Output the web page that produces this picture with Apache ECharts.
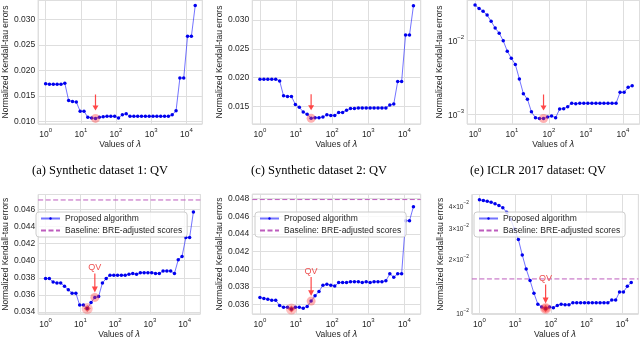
<!DOCTYPE html>
<html>
<head>
<meta charset="utf-8">
<script src="https://cdn.jsdelivr.net/npm/echarts@6/dist/echarts.min.js"></script>
<style>
  html, body { margin: 0; padding: 0; background: #fff; }
  #chart { width: 640px; height: 340px; }
</style>
</head>
<body>
<div id="chart"></div>
<script>
// lambda grid shared by all six panels
const LAMBDAS = [1, 1.285, 1.652, 2.123, 2.729, 3.508, 4.508, 5.794, 7.447, 9.572,
  12.30, 15.81, 20.32, 26.12, 33.57, 43.15, 55.46, 71.29, 91.62, 117.8,
  151.4, 194.5, 250.0, 321.4, 413.0, 530.9, 682.3, 877.0, 1127, 1449,
  1862, 2393, 3076, 3954, 5082, 6531, 8395, 10790, 13868, 17824];
const X_LIMITS = [0.6138, 28314];

// top row: synthetic 1, synthetic 2, ICLR 2017
const SYN1_TOP = [0.0174, 0.0173, 0.0173, 0.0173, 0.0173, 0.0175, 0.0141, 0.0139, 0.0138, 0.0120,
  0.0120, 0.0108, 0.0107, 0.0106, 0.0108, 0.0109, 0.0110, 0.0110, 0.0110, 0.0107,
  0.0113, 0.0115, 0.0110, 0.0110, 0.0110, 0.0110, 0.0110, 0.0110, 0.0110, 0.0110,
  0.0110, 0.0110, 0.0110, 0.0113, 0.0121, 0.0185, 0.0185, 0.0267, 0.0267, 0.0327];
const SYN2_TOP = [0.0197, 0.0197, 0.0197, 0.0197, 0.0197, 0.0194, 0.0168, 0.0167, 0.0167, 0.0153,
  0.0148, 0.0140, 0.0136, 0.0129, 0.0130, 0.0130, 0.0131, 0.0135, 0.0134, 0.0134,
  0.0139, 0.0139, 0.0143, 0.0146, 0.0146, 0.0147, 0.0147, 0.0147, 0.0147, 0.0147,
  0.0147, 0.0147, 0.0147, 0.0152, 0.0154, 0.0193, 0.0193, 0.0274, 0.0274, 0.0325];
const ICLR_TOP = [0.0296, 0.0267, 0.0245, 0.0217, 0.0179, 0.0145, 0.0124, 0.0098, 0.0071, 0.0057,
  0.0047, 0.0030, 0.0019, 0.0016, 0.00108, 0.00090, 0.00088, 0.00088, 0.00092, 0.00095,
  0.00090, 0.00118, 0.00119, 0.00127, 0.00141, 0.00139, 0.00141, 0.00141, 0.00141, 0.00141,
  0.00141, 0.00141, 0.00141, 0.00141, 0.00141, 0.00141, 0.00198, 0.00198, 0.00231, 0.00243];

// bottom row: (a) synthetic 1, (c) synthetic 2, (e) ICLR 2017
const SYN1_BOT = [0.0379, 0.0379, 0.0375, 0.0374, 0.0374, 0.0370, 0.0366, 0.0362, 0.0362, 0.0348,
  0.0348, 0.0344, 0.0351, 0.0357, 0.0358, 0.0374, 0.0379, 0.0383, 0.0383, 0.0383,
  0.0383, 0.0383, 0.0384, 0.0385, 0.0384, 0.0386, 0.0386, 0.0386, 0.0386, 0.0385,
  0.0385, 0.0388, 0.0388, 0.0388, 0.0385, 0.0401, 0.0405, 0.0427, 0.0427, 0.0457];
const SYN2_BOT = [0.0368, 0.0367, 0.0366, 0.0365, 0.0365, 0.0359, 0.0357, 0.0357, 0.0355, 0.0357,
  0.0357, 0.0356, 0.0358, 0.0364, 0.0370, 0.0375, 0.0382, 0.0383, 0.0382, 0.0381,
  0.0385, 0.0385, 0.0385, 0.0386, 0.0386, 0.0386, 0.0385, 0.0386, 0.0385, 0.0386,
  0.0386, 0.0386, 0.0387, 0.0395, 0.0391, 0.0395, 0.0395, 0.0455, 0.0455, 0.0471];
const ICLR_BOT = [0.0430, 0.0426, 0.0422, 0.0417, 0.0408, 0.0400, 0.0388, 0.0366, 0.0335, 0.0295,
  0.0258, 0.0211, 0.0176, 0.0152, 0.0129, 0.0112, 0.0108, 0.0106, 0.0108, 0.0107,
  0.0110, 0.0112, 0.0111, 0.0111, 0.0114, 0.0114, 0.0114, 0.0114, 0.0114, 0.0114,
  0.0114, 0.0114, 0.0114, 0.0114, 0.0118, 0.0118, 0.0131, 0.0131, 0.0141, 0.0148];

const BASELINES = [0.0471, 0.0479, 0.0155];
const QV_INDEX = [13, 13, 17, 13, 13, 17];
const MIN_INDEX = [11, 8, 17];
const ICLR_BOT_TICKS = [0.01, 0.02, 0.03, 0.04];
const CAPTIONS = ['(a) Synthetic dataset 1: QV', '(c) Synthetic dataset 2: QV', '(e) ICLR 2017 dataset: QV'];

const ALG = 'Proposed algorithm';
const BASE = 'Baseline: BRE-adjusted scores';
const TXT = '#262626';
const GRID_C = '#dedede';
const BASE_C = '#bd5cbd';
const ARROW = 'path://M4,0L6,0L6,11L10,11L5,16L0,11L4,11Z';

const panels = [
  { vals: SYN1_TOP, grid: { left: 33, top: 0, width: 169.3, height: 124 }, y: [0.0095, 0.0338], log: false, split: 5, gap: 23.5 },
  { vals: SYN2_TOP, grid: { left: 252.3, top: 0, width: 168.4, height: 124 }, y: [0.0119, 0.0335], log: false, split: 5, gap: 25.8 },
  { vals: ICLR_TOP, grid: { left: 467.2, top: 0, width: 172.4, height: 124 }, y: [0.000741, 0.03467], log: true, gap: 22.7 },
  { vals: SYN1_BOT, grid: { left: 33.4, top: 194.5, width: 167, height: 124.3 }, y: [0.03376, 0.04774], log: false, split: 7, gap: 26 },
  { vals: SYN2_BOT, grid: { left: 252.3, top: 194.1, width: 168.4, height: 124.9 }, y: [0.03494, 0.04852], log: false, split: 7, gap: 26.3 },
  { vals: ICLR_BOT, grid: { left: 471.9, top: 194.5, width: 166.5, height: 126 }, y: [0.009863, 0.04603], log: true, gap: 25.5, custom: ICLR_BOT_TICKS }
];

const rich = {
  b: { fontSize: 8.5, color: TXT, lineHeight: 12, verticalAlign: 'bottom' },
  s: { fontSize: 6, color: TXT, lineHeight: 12, verticalAlign: 'top' }
};
const richSmall = {
  b: { fontSize: 6.5, color: TXT, lineHeight: 10, verticalAlign: 'bottom' },
  s: { fontSize: 4.8, color: TXT, lineHeight: 10, verticalAlign: 'top' }
};

function powLabel(v) {
  const e = Math.floor(Math.log10(v) + 1e-9);
  const m = Math.round(v / Math.pow(10, e));
  const ex = String(e).replace('-', '\u2212');
  return (m === 1 ? '{b|10}' : '{b|' + m + '\u00d710}') + '{s|' + ex + '}';
}

const grid = [], xAxis = [], yAxis = [], series = [];

panels.forEach((p, i) => {
  const bottom = i >= 3;
  grid.push(Object.assign({ show: true, borderColor: '#d2d2d2', borderWidth: 1, backgroundColor: 'transparent' }, p.grid));

  xAxis.push({
    type: 'log', logBase: 10, gridIndex: i, min: X_LIMITS[0], max: X_LIMITS[1],
    axisLine: { show: false }, axisTick: { show: false },
    splitLine: { lineStyle: { color: GRID_C, width: 1 } },
    axisLabel: {
      margin: 3, showMinLabel: false, showMaxLabel: false, rich: rich,
      formatter: v => powLabel(v)
    },
    name: 'Values of {i|\u03bb}', nameLocation: 'middle', nameGap: bottom ? 16 : 14,
    nameTextStyle: { fontSize: 8.5, color: TXT, rich: { i: { fontSize: 8.5, color: TXT, fontStyle: 'italic', fontFamily: 'DejaVu Sans' } } }
  });

  const ya = {
    type: p.log ? 'log' : 'value', gridIndex: i, min: p.y[0], max: p.y[1],
    axisLine: { show: false }, axisTick: { show: false },
    splitLine: { lineStyle: { color: GRID_C, width: 1 } },
    axisLabel: {
      margin: 3, fontSize: 8.5, color: TXT, showMinLabel: false, showMaxLabel: false, rich: rich,
      formatter: p.log ? (v => powLabel(v)) : (v => v.toFixed(3))
    },
    name: 'Normalized Kendall-tau errors', nameLocation: 'middle', nameRotate: 90, nameGap: p.gap,
    nameTextStyle: { fontSize: 8.5, color: TXT }
  };
  if (p.log) ya.logBase = 10;
  else ya.splitNumber = p.split;
  if (p.custom) {
    ya.axisLabel.customValues = p.custom;
    ya.axisLabel.showMinLabel = true;
    ya.axisLabel.showMaxLabel = true;
    ya.axisLabel.rich = richSmall;
  }
  yAxis.push(ya);

  series.push({
    name: ALG, type: 'line', xAxisIndex: i, yAxisIndex: i,
    data: LAMBDAS.map((x, k) => [x, p.vals[k]]),
    symbol: 'circle', symbolSize: 3.5, showSymbol: true,
    itemStyle: { color: '#0000ee' },
    lineStyle: { color: 'rgba(40,40,255,0.65)', width: 1 },
    emphasis: { disabled: true }, z: 3
  });

  const q = QV_INDEX[i];
  const qpt = [LAMBDAS[q], p.vals[q]];
  const alen = bottom ? 19 : 16;
  const agap = bottom ? 5 : 8;
  series.push({
    type: 'scatter', xAxisIndex: i, yAxisIndex: i, data: [qpt],
    symbolSize: 9, itemStyle: { color: 'rgba(255,60,60,0.5)' }, z: 4, silent: true,
    markPoint: {
      silent: true,
      data: [{
        coord: qpt, symbol: ARROW, symbolSize: [6, alen], symbolOffset: [0, -(agap + alen / 2)],
        itemStyle: { color: 'rgba(255,40,40,0.85)' },
        label: { show: bottom, formatter: 'QV', position: 'top', distance: 1, fontSize: 9, color: '#ee5050' }
      }]
    }
  });

  if (bottom) {
    const m = MIN_INDEX[i - 3];
    const mpt = [LAMBDAS[m], p.vals[m]];
    series.push({
      type: 'scatter', xAxisIndex: i, yAxisIndex: i, data: [mpt], silent: true,
      symbol: 'circle', symbolSize: 11, itemStyle: { color: 'rgba(255,60,60,0.4)' }, z: 4
    });
    series.push({
      type: 'scatter', xAxisIndex: i, yAxisIndex: i, data: [mpt], silent: true,
      symbol: 'diamond', symbolSize: 7, itemStyle: { color: 'rgba(225,0,0,0.65)' }, z: 5
    });
    // horizontal baseline across the whole axis range
    series.push({
      name: BASE, type: 'line', xAxisIndex: i, yAxisIndex: i,
      data: X_LIMITS.map(x => [x, BASELINES[i - 3]]),
      symbol: 'none', showSymbol: false, silent: true, z: 2,
      itemStyle: { color: BASE_C }, lineStyle: { color: BASE_C, type: [5, 2.5], width: 1 }
    });
  }
});

const LEGEND_POS = [{ left: 36, top: 212 }, { left: 255, top: 212 }, { left: 474, top: 212 }];
const legend = LEGEND_POS.map(pos => ({
  data: [{ name: ALG }, { name: BASE, itemStyle: { opacity: 0 } }],
  orient: 'vertical', left: pos.left, top: pos.top,
  itemWidth: 19, itemHeight: 3, itemGap: 3, padding: [2, 5, 2, 4],
  backgroundColor: 'rgba(255,255,255,0.8)', borderColor: '#cccccc', borderWidth: 1, borderRadius: 3,
  textStyle: { fontSize: 8.5, color: TXT }, selectedMode: false
}));

const graphic = CAPTIONS.map((t, i) => ({
  type: 'text', x: [100, 319, 538][i], y: 171,
  style: { text: t, textAlign: 'center', textVerticalAlign: 'middle', font: '12.5px "Liberation Serif"', fill: '#000' }
}));

const chart = echarts.init(document.getElementById('chart'), null, { renderer: 'canvas' });
chart.setOption({
  animation: false,
  textStyle: { fontFamily: 'Liberation Sans' },
  grid, xAxis, yAxis, series, legend, graphic
});
</script>
</body>
</html>
